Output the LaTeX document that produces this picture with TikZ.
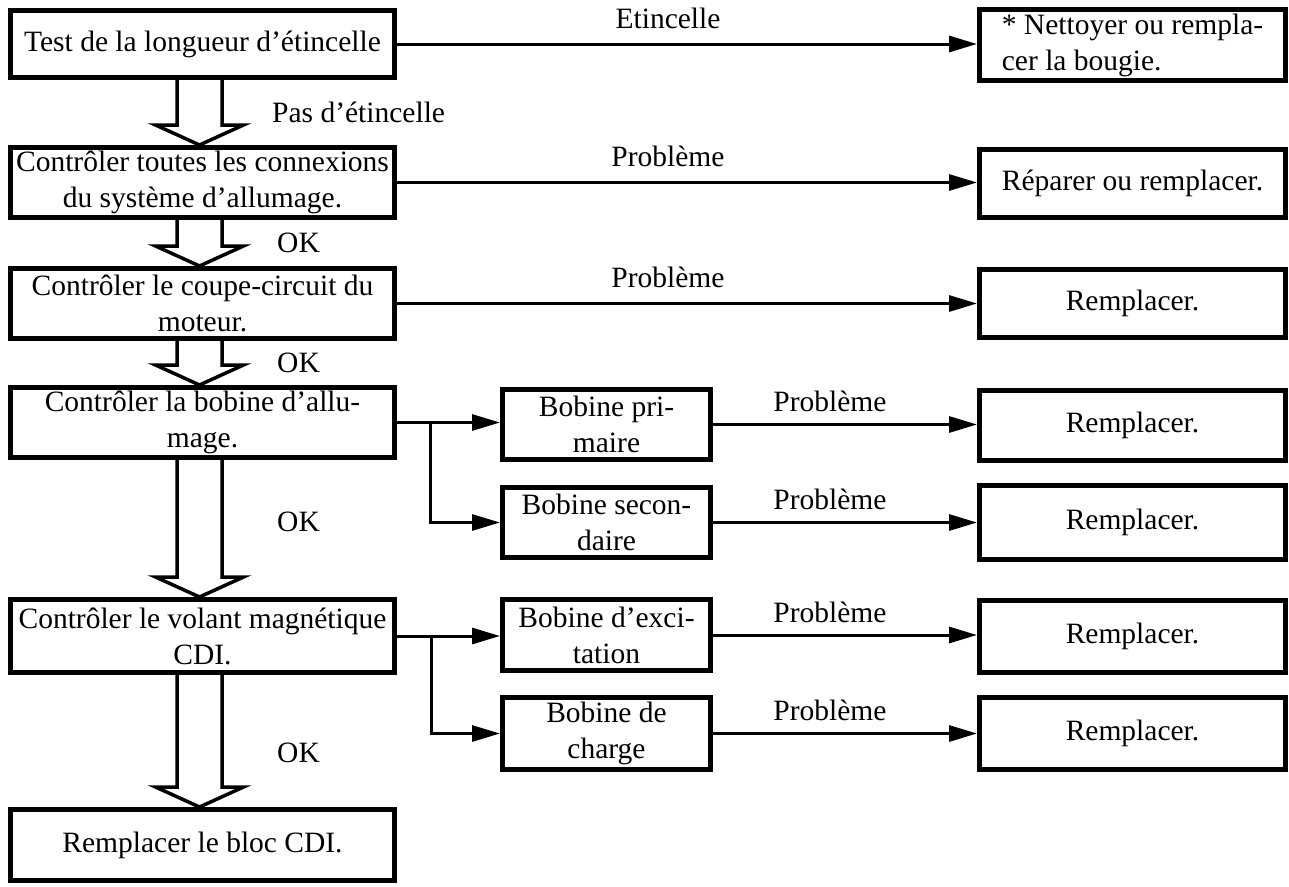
\documentclass[tikz,border=0pt]{standalone}
\usepackage{fontspec}
\setmainfont{Liberation Serif}
\usetikzlibrary{arrows.meta,calc}
\newcommand\fsz{\fontsize{29.5}{36}\selectfont}
\newcommand\hollowarrow[2]{%
  \draw[bigarr] let \p1=(#1.south), \p2=(#2.north) in
  (\x1-25.5pt,\y1+2pt) -- (\x1-25.5pt,\y2+20pt) -- (\x1-47pt,\y2+20pt) -- (\x1-3pt,\y2)
  -- (\x1+41pt,\y2+20pt) -- (\x1+19.5pt,\y2+20pt) -- (\x1+19.5pt,\y1+2pt);}
\tikzset{
  box/.style={draw, line width=5pt, inner sep=0pt, align=center, font=\fsz},
  lbox/.style={box, minimum width=384.5pt},
  mbox/.style={box, minimum width=208pt},
  rbox/.style={box, minimum width=306pt},
  lbl/.style={inner sep=0pt, font=\fsz},
  conn/.style={line width=3pt, -{Triangle[length=28pt,width=16pt]}},
  bigarr/.style={line width=3.5pt, line join=miter}
}
\begin{document}
\begin{tikzpicture}[x=1pt,y=-1pt]
\useasboundingbox (0,0) rectangle (1289,886);
% left column
\node[lbox, minimum height=67pt] (B1) at (202.5,44) {Test de la longueur d’étincelle};
\node[lbox, minimum height=70pt] (B2) at (202.5,182.5) {Contrôler toutes les connexions\\du système d’allumage.};
\node[lbox, minimum height=70pt] (B3) at (202.5,303.5) {Contrôler le coupe-circuit du\\moteur.};
\node[lbox, minimum height=70pt] (B4) at (202.5,422.5) {Contrôler la bobine d’allu-\\mage.};
\node[lbox, minimum height=73pt] (B5) at (202.5,636) {Contrôler le volant magnétique\\CDI.};
\node[lbox, minimum height=71pt] (B6) at (202.5,845) {Remplacer le bloc CDI.};
% middle column
\node[mbox, minimum height=70pt] (M1) at (606.5,424.5) {Bobine pri-\\maire};
\node[mbox, minimum height=70pt] (M2) at (606.5,522.5) {Bobine secon-\\daire};
\node[mbox, minimum height=71pt] (M3) at (606.5,635) {Bobine d’exci-\\tation};
\node[mbox, minimum height=72pt] (M4) at (606.5,733.5) {Bobine de\\charge};
% right column
\node[rbox, minimum height=71pt, align=left] (N) at (1132.5,45) {* Nettoyer ou rempla-\\cer la bougie.};
\node[rbox, minimum height=68pt] (R2) at (1132.5,183.5) {Réparer ou remplacer.};
\node[rbox, minimum height=68pt] (R3) at (1132.5,303.5) {Remplacer.};
\node[rbox, minimum height=70pt] (R4) at (1132.5,425.5) {Remplacer.};
\node[rbox, minimum height=74pt] (R5) at (1132.5,522.5) {Remplacer.};
\node[rbox, minimum height=72pt] (R6) at (1132.5,636.5) {Remplacer.};
\node[rbox, minimum height=72pt] (R7) at (1132.5,733.5) {Remplacer.};
% hollow arrows
\hollowarrow{B1}{B2}
\hollowarrow{B2}{B3}
\hollowarrow{B3}{B4}
\hollowarrow{B4}{B5}
\hollowarrow{B5}{B6}
\node[lbl, anchor=base west] (pas) at (272,122) {Pas d’étincelle};
\node[lbl, anchor=base west] (ok1) at (277,252) {OK};
\node[lbl, anchor=base west] (ok2) at (277,372) {OK};
\node[lbl, anchor=base west] (ok3) at (277,531) {OK};
\node[lbl, anchor=base west] (ok4) at (277,762) {OK};
% main connectors
\draw[conn] (B1.east) -- (B1.east -| N.west) node[lbl, pos=.467, above=14pt] (l1) {Etincelle};
\draw[conn] (B2.east) -- (B2.east -| R2.west) node[lbl, pos=.467, above=14pt] (l2) {Problème};
\draw[conn] (B3.east) -- (B3.east -| R3.west) node[lbl, pos=.467, above=14pt] (l3) {Problème};
% branches
\coordinate (j1) at (430,422.5);
\coordinate (j2) at (431,636);
\draw[conn] (B4.east) -- (B4.east -| M1.west);
\draw[conn] (j1) |- (M2.west);
\draw[conn] (B5.east) -- (B5.east -| M3.west);
\draw[conn] (j2) |- (M4.west);
\draw[conn] (M1.east) -- (M1.east -| R4.west) node[lbl, pos=.443, above=11pt] (l4) {Problème};
\draw[conn] (M2.east) -- (M2.east -| R5.west) node[lbl, pos=.443, above=11pt] (l5) {Problème};
\draw[conn] (M3.east) -- (M3.east -| R6.west) node[lbl, pos=.443, above=11pt] (l6) {Problème};
\draw[conn] (M4.east) -- (M4.east -| R7.west) node[lbl, pos=.443, above=11pt] (l7) {Problème};
\end{tikzpicture}
\end{document}
